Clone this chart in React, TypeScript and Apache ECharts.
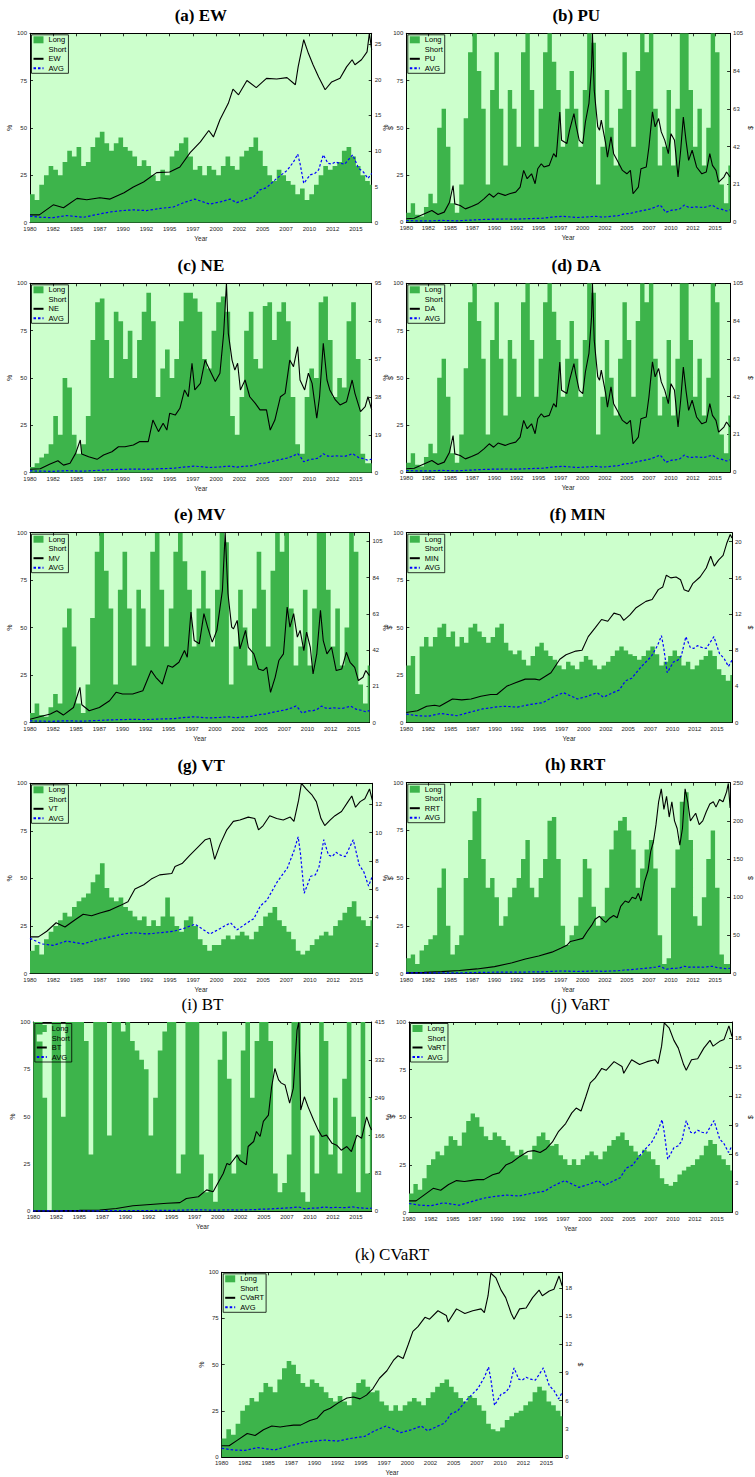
import React, { useEffect, useRef } from "react";
import * as echarts from "echarts";

const X_MIN = 1980;
const X_MAX = 2016.7;
const BAR_START = 1980;
const BAR_STEP = 0.5;
const X_TICKS = 2.5;

const LONG_GREEN = "#3db44b";
const SHORT_GREEN = "#ccffcc";
const SANS = "'Liberation Sans', Arial, sans-serif";
const SERIF = "'Liberation Serif', 'DejaVu Serif', serif";

// ---- AVG line ($) ----
const AVG_LINE: [number, number][] = [
  [1980, 0.93], [1981.25, 0.75], [1982.5, 0.7], [1983.9, 1.0], [1985.7, 0.75], [1987.2, 1.15],
  [1988.6, 1.5], [1990, 1.7], [1991.1, 1.8], [1992.5, 1.7], [1994, 2.0], [1995.4, 2.2],
  [1996.5, 2.8], [1997.7, 3.3], [1999.3, 2.6], [2000.4, 2.9], [2001.5, 3.3], [2002.2, 2.8],
  [2003.3, 3.3], [2004, 3.6], [2004.7, 4.6], [2005.4, 4.9], [2006.5, 6.2], [2007.6, 7.3],
  [2008.3, 8.5], [2008.75, 9.6], [2009, 8.3], [2009.4, 5.5], [2010.1, 6.7], [2010.6, 6.9],
  [2011, 7.4], [2011.5, 9.5], [2012, 8.3], [2012.4, 8.2], [2012.8, 8.5], [2013.3, 8.3],
  [2013.8, 8.2], [2014.66, 9.5], [2015.3, 7.6], [2015.8, 7.1], [2016.3, 6.2], [2016.7, 6.9],
];
// AVG as drawn in the VT panel (starts higher)
const AVG_VT_LINE: [number, number][] = [
  [1980, 2.5], [1981.25, 2.1], [1982.5, 2.0], [1983.9, 2.3], [1985.7, 2.1], [1987.2, 2.4],
  [1988.6, 2.6], [1990, 2.8], [1991.1, 2.9], [1992.5, 2.8], [1994, 2.9], [1995.4, 3.0],
  [1996.5, 3.2], [1997.7, 3.5], [1999.3, 2.8], [2000.4, 3.2], [2001.5, 3.6], [2002.2, 3.1],
  [2003.3, 3.6], [2004, 3.9], [2004.7, 4.8], [2005.4, 5.2], [2006.5, 6.5], [2007.6, 7.5],
  [2008.3, 8.7], [2008.75, 9.7], [2009, 8.5], [2009.4, 5.7], [2010.1, 6.9], [2010.6, 7.0],
  [2011, 7.6], [2011.5, 9.5], [2012, 8.4], [2012.4, 8.3], [2012.8, 8.6], [2013.3, 8.4],
  [2013.8, 8.3], [2014.66, 9.5], [2015.3, 7.7], [2015.8, 7.2], [2016.3, 6.2], [2016.7, 6.9],
];

// ---- strategy value lines ($) ----
const EW_LINE: [number, number][] = [
  [1980, 1.1], [1981, 1.1], [1982.5, 2.5], [1983.6, 2.1], [1985.05, 3.4], [1986.1, 3.2],
  [1987.5, 3.5], [1988.6, 3.3], [1990.1, 4.2], [1991.1, 5.0], [1992.2, 5.7], [1993.6, 7.0],
  [1995, 7.1], [1996.1, 7.8], [1997.2, 9.8], [1998.3, 11.3], [1999.2, 12.9], [1999.7, 12.0],
  [2000.4, 14.4], [2001.3, 16.7], [2001.8, 18.7], [2002.4, 17.9], [2003.3, 19.9], [2004.3, 18.9],
  [2005.4, 20.2], [2006.5, 20.1], [2007.6, 20.3], [2008.5, 19.3], [2008.8, 21.8], [2009.4, 25.6],
  [2009.9, 23.7], [2010.4, 22.1], [2011, 20.4], [2011.7, 18.6], [2012.4, 19.7], [2013.3, 20.2],
  [2014, 21.8], [2014.6, 22.8], [2014.9, 22.1], [2015.6, 22.8], [2016.2, 23.9], [2016.45, 26.5],
  [2016.7, 24.2],
];

const PU_LINE: [number, number][] = [
  [1980, 1.9], [1980.9, 2.2], [1982, 4.6], [1982.9, 6.5], [1983.6, 4.3], [1984.3, 5.6],
  [1984.9, 11.1], [1985.3, 20.4], [1985.5, 10.2], [1986.1, 9.3], [1986.7, 7.4], [1987.4, 8.7],
  [1988.1, 10.2], [1988.8, 13.0], [1989.4, 15.8], [1989.9, 13.9], [1990.4, 16.2], [1991.2, 14.9],
  [1991.7, 15.8], [1992.4, 16.7], [1992.9, 19.5], [1993.3, 28.8], [1993.7, 24.2], [1994.2, 26.9],
  [1994.6, 21.4], [1994.9, 29.7], [1995.3, 32.5], [1995.6, 30.7], [1996.2, 31.6], [1996.7, 38.1],
  [1997, 36.2], [1997.4, 61.3], [1997.6, 45.5], [1998.2, 43.7], [1998.5, 51.1], [1999, 60.4],
  [1999.2, 54.8], [1999.6, 45.5], [2000, 43.7], [2000.3, 55.7], [2000.7, 66], [2001, 86.4],
  [2001.1, 105], [2001.3, 73.4], [2001.7, 53], [2001.9, 51.1], [2002.1, 56.7], [2002.6, 43.7],
  [2002.8, 36.2], [2003.2, 47.4], [2003.5, 38.1], [2003.9, 34.4], [2004.5, 28.8], [2005, 26.9],
  [2005.4, 28.8], [2005.7, 15.8], [2006.3, 19.5], [2006.6, 29.7], [2007.2, 30.7], [2007.5, 41.8],
  [2007.9, 61.3], [2008.2, 53], [2008.6, 57.6], [2008.9, 50.2], [2009.3, 45.5], [2009.7, 38.1],
  [2010, 49.2], [2010.4, 45.5], [2010.8, 25.1], [2011.1, 40], [2011.4, 58.5], [2011.7, 45.5],
  [2012, 34.4], [2012.4, 40], [2012.9, 30.7], [2013.5, 26.9], [2014, 27.9], [2014.4, 38.1],
  [2014.7, 31.6], [2015.1, 28.8], [2015.4, 22.3], [2016, 25.1], [2016.3, 27.9], [2016.7, 25.1],
];

const NE_LINE: [number, number][] = [
  [1980, 1.7], [1981.1, 2.0], [1982.1, 4.2], [1983, 6.0], [1983.6, 3.8], [1984.3, 4.7],
  [1984.9, 9.7], [1985.4, 16.4], [1985.55, 9.4], [1986.3, 8.0], [1987.2, 6.7], [1987.9, 8.9],
  [1988.8, 10.5], [1989.5, 13], [1990.2, 13], [1991.1, 13.9], [1991.8, 15.6], [1992.7, 15.6],
  [1993.2, 26.4], [1993.8, 20.6], [1994.3, 24.8], [1994.7, 21.4], [1995, 29.8], [1995.6, 28.9],
  [1996.1, 32.3], [1996.6, 41.5], [1997, 38.1], [1997.4, 54.9], [1997.7, 41.5], [1998.3, 44.8],
  [1998.8, 56.5], [1999.3, 51.5], [1999.9, 45.7], [2000.4, 49.9], [2000.8, 69.9], [2001.1, 95],
  [2001.3, 69.9], [2001.7, 56.5], [2002, 51.5], [2002.3, 54.9], [2002.6, 41.5], [2003.1, 46.5],
  [2003.6, 38.1], [2004.2, 34.8], [2004.7, 31.5], [2005.4, 31.5], [2005.8, 21.4], [2006.3, 26.4],
  [2006.9, 38.1], [2007.4, 39.8], [2007.9, 56.5], [2008.3, 53.2], [2008.75, 63.2], [2009, 46.5],
  [2009.5, 41.5], [2009.9, 49.9], [2010.3, 44.8], [2010.8, 27.3], [2011.1, 38.1], [2011.5, 64.9],
  [2011.9, 46.5], [2012.2, 41.5], [2012.8, 36.5], [2013.3, 34], [2014, 35.6], [2014.6, 46.5],
  [2014.9, 39.8], [2015.5, 30.6], [2016, 33.1], [2016.3, 38.1], [2016.7, 31.5],
];

const MV_LINE: [number, number][] = [
  [1980, 1.9], [1982.2, 4.9], [1982.9, 6.8], [1983.6, 4.3], [1984.7, 8.7], [1985.4, 20.4],
  [1985.6, 10.3], [1986.4, 6.8], [1987.5, 8.7], [1988.6, 12.6], [1989.3, 17.5], [1990, 16.5],
  [1991.1, 16.5], [1992.2, 18.4], [1993.1, 30.1], [1993.6, 26.2], [1994.3, 22.3], [1994.9, 33],
  [1995.4, 32], [1996.1, 34.9], [1996.7, 41.7], [1997, 37.8], [1997.4, 64], [1997.75, 47.5],
  [1998.3, 45.6], [1998.8, 63.1], [1999.2, 55.3], [1999.7, 46.6], [2000.2, 53.4], [2000.8, 76.6],
  [2001.1, 110], [2001.4, 74.7], [2001.8, 55.3], [2002, 54.3], [2002.4, 59.2], [2002.7, 42.7],
  [2003.3, 53.4], [2003.6, 43.6], [2004.2, 39.8], [2004.7, 31], [2005.2, 30.1], [2005.6, 32],
  [2006, 17.5], [2006.5, 26.2], [2006.9, 35.9], [2007.4, 39.8], [2007.8, 66.9], [2008.1, 55.3],
  [2008.5, 63.1], [2008.9, 49.5], [2009.2, 53.4], [2009.6, 41.7], [2009.9, 52.4], [2010.3, 43.6],
  [2010.6, 28.1], [2011, 39.8], [2011.4, 65], [2011.7, 47.5], [2012.1, 39.8], [2012.6, 43.6],
  [2013.1, 30.1], [2013.7, 31], [2014.2, 40.7], [2014.6, 34.9], [2015.1, 32], [2015.5, 24.3],
  [2016, 26.2], [2016.3, 30.1], [2016.7, 27.2],
];

const MIN_LINE: [number, number][] = [
  [1980, 1.1], [1981.25, 1.3], [1982.3, 1.8], [1983.2, 1.9], [1983.75, 1.8], [1985.2, 2.6],
  [1986.25, 2.5], [1987.3, 2.6], [1988.4, 2.9], [1989.5, 3.1], [1990.2, 3.1], [1991.3, 4.0],
  [1992.3, 4.4], [1993.4, 4.8], [1994.5, 4.8], [1995, 4.7], [1996.3, 5.5], [1997.3, 7.0],
  [1998, 7.5], [1999.1, 7.9], [1999.8, 8.0], [2000.5, 9.5], [2001.3, 10.5], [2002, 11.4],
  [2002.7, 11.2], [2003.4, 12.1], [2004.1, 11.9], [2004.5, 11.3], [2005.2, 11.9], [2005.9, 12.7],
  [2007, 13.4], [2007.7, 13.6], [2008.4, 14.7], [2008.9, 15.0], [2009.3, 16.3], [2009.8, 16.0],
  [2010.4, 16.1], [2010.9, 15.8], [2011.3, 14.7], [2011.8, 14.5], [2012.3, 15.4], [2013.1, 16.1],
  [2013.8, 17.1], [2014.3, 18.4], [2014.7, 17.3], [2015.2, 18.0], [2015.7, 18.5], [2016.1, 19.8],
  [2016.5, 20.8], [2016.7, 20.4],
];

const VT_LINE: [number, number][] = [
  [1980, 2.6], [1980.9, 2.6], [1981.8, 3.0], [1982.8, 3.6], [1983.75, 3.3], [1984.8, 3.8],
  [1985.7, 4.2], [1986.6, 4.1], [1987.5, 4.3], [1988.6, 4.5], [1989.6, 4.8], [1990.5, 5.1],
  [1991.25, 6.0], [1992.2, 6.3], [1993, 6.7], [1993.9, 7.0], [1995.2, 7.1], [1995.55, 7.6],
  [1996.3, 7.8], [1997.15, 8.4], [1997.9, 8.9], [1998.8, 9.5], [1999.3, 9.6], [1999.8, 8.1],
  [2000.4, 9.2], [2001.1, 10.2], [2001.8, 10.8], [2002.5, 10.9], [2003.4, 11.1], [2004.1, 11.0],
  [2004.5, 10.2], [2005, 10.5], [2005.7, 11.2], [2006.45, 11.0], [2007.15, 10.9], [2007.9, 11.1],
  [2008.3, 10.8], [2008.8, 12.3], [2009.1, 13.5], [2009.6, 13.1], [2010.2, 12.7], [2010.7, 12.2],
  [2011.2, 11.0], [2011.6, 10.5], [2012.2, 10.9], [2012.7, 11.2], [2013.4, 11.5], [2014.1, 12.2],
  [2014.5, 12.6], [2014.9, 11.8], [2015.4, 12.2], [2015.9, 12.4], [2016.4, 13.1], [2016.7, 12.3],
];

const RRT_LINE: [number, number][] = [
  [1980, 1], [1982, 1.5], [1984, 2.5], [1986, 4], [1988, 6], [1990, 9], [1992, 14],
  [1993.5, 19], [1995, 23], [1996.5, 28], [1997.5, 33], [1998.2, 37], [1998.6, 42],
  [1999.3, 44], [2000, 46], [2000.5, 55], [2001, 63], [2001.4, 71], [2001.9, 75],
  [2002.3, 70], [2002.6, 67], [2003, 72], [2003.5, 76], [2003.9, 73], [2004.3, 88],
  [2004.8, 95], [2005.2, 93], [2005.6, 100], [2006, 98], [2006.3, 105], [2006.6, 95],
  [2007, 120], [2007.4, 135], [2007.7, 160], [2008, 172], [2008.3, 195], [2008.6, 225],
  [2008.9, 242], [2009.2, 215], [2009.5, 232], [2009.8, 205], [2010.1, 225], [2010.4, 200],
  [2010.7, 190], [2011, 168], [2011.3, 190], [2011.6, 242], [2011.9, 225], [2012.2, 200],
  [2012.5, 205], [2012.8, 210], [2013.2, 195], [2013.6, 200], [2014, 212], [2014.4, 222],
  [2014.8, 225], [2015.1, 218], [2015.5, 228], [2015.9, 225], [2016.3, 238], [2016.5, 249],
  [2016.7, 217],
];

const BT_LINE: [number, number][] = [
  [1980, 1], [1983, 1.5], [1985, 2], [1987.2, 3], [1989, 6], [1990.8, 12], [1992.7, 15],
  [1994.5, 17.5], [1995.9, 19], [1996.6, 28], [1997.9, 32], [1998.8, 47], [1999.5, 43],
  [2000.1, 65], [2000.6, 83], [2001, 105], [2001.3, 102], [2002.1, 123], [2002.4, 112],
  [2003.1, 102], [2003.3, 142], [2003.9, 153], [2004.2, 175], [2004.6, 164], [2004.95, 197],
  [2005.5, 211], [2005.85, 273], [2006.2, 313], [2006.6, 288], [2006.9, 281], [2007.3, 277],
  [2007.8, 237], [2008.2, 270], [2008.6, 397], [2008.8, 415], [2009, 222], [2009.4, 251],
  [2009.8, 229], [2010.4, 200], [2010.9, 178], [2011.3, 164], [2011.8, 167], [2012.4, 149],
  [2012.9, 145], [2013.4, 134], [2014, 142], [2014.5, 131], [2015.1, 167], [2015.6, 160],
  [2016.15, 207], [2016.5, 186], [2016.7, 178],
];

const VART_LINE: [number, number][] = [
  [1980, 1.2], [1980.8, 1.2], [1981.7, 1.8], [1982.75, 2.5], [1983.6, 2.3], [1984.5, 2.9],
  [1985.4, 3.3], [1986.3, 3.2], [1987, 3.3], [1987.75, 3.4], [1988.5, 3.4], [1989.5, 3.9],
  [1990.25, 4.1], [1991, 4.9], [1991.7, 5.2], [1992.6, 5.8], [1993.5, 6.3], [1994.2, 6.4],
  [1994.9, 6.2], [1995.6, 6.6], [1996.3, 7.3], [1997, 8.4], [1997.8, 9.2], [1998.5, 10.3],
  [1999, 10.8], [1999.55, 10.5], [2000.1, 12.0], [2000.6, 13.4], [2001.15, 13.9], [2001.9, 14.9],
  [2002.4, 14.7], [2003.3, 15.6], [2004.2, 15.1], [2004.4, 14.4], [2005.3, 15.8], [2006.2, 15.3],
  [2007.05, 15.6], [2007.95, 15.8], [2008.3, 15.4], [2008.7, 17.2], [2009, 19.6], [2009.55, 19.1],
  [2010.1, 17.8], [2010.6, 17.0], [2011.2, 15.3], [2011.5, 14.7], [2012.1, 15.8], [2012.8, 15.9],
  [2013.5, 17.0], [2014.2, 17.8], [2014.55, 17.2], [2015.3, 17.7], [2015.8, 17.9], [2016.35, 19.3],
  [2016.7, 18.2],
];

// ---- long share (%) per half-year, 1980.0 .. 2016.5 ----
const EW_LONG = [
  15, 12, 20, 25, 30, 28, 25, 32, 38, 35,
  40, 30, 32, 40, 45, 48, 42, 38, 42, 45,
  40, 38, 35, 30, 33, 30, 25, 22, 28, 25,
  35, 38, 42, 45, 35, 28, 30, 25, 30, 28,
  25, 30, 35, 30, 28, 35, 38, 40, 45, 38,
  30, 25, 22, 28, 25, 22, 20, 15, 18, 12,
  15, 20, 25, 30, 28, 30, 32, 38, 40, 35,
  30, 25, 22, 20,
];
const PU_LONG = [
  5, 10, 4, 3, 8, 15, 10, 50, 60, 40,
  10, 5, 20, 55, 90, 100, 80, 60, 20, 70,
  90, 60, 30, 70, 60, 40, 90, 100, 70, 40,
  60, 90, 100, 85, 70, 40, 60, 80, 60, 40,
  70, 100, 95, 20, 40, 70, 50, 30, 60, 90,
  70, 40, 80, 100, 90, 100, 60, 30, 40, 70,
  30, 60, 100, 100, 70, 40, 60, 30, 50, 100,
  90, 20, 10, 30,
];
const NE_LONG = [
  3, 5, 8, 10, 15, 30, 20, 50, 45, 20,
  10, 15, 30, 70, 90, 92, 70, 50, 85, 80,
  60, 75, 50, 70, 85, 95, 80, 40, 55, 65,
  50, 60, 80, 95, 95, 92, 85, 60, 55, 75,
  90, 93, 85, 30, 20, 40, 75, 85, 60, 55,
  88, 90, 70, 85, 90, 80, 40, 15, 10, 40,
  55, 50, 90, 93, 70, 40, 50, 45, 80, 90,
  60, 10, 5, 5,
];
const MIN_LONG = [
  30, 35, 15, 40, 45, 40, 45, 50, 52, 45,
  48, 40, 45, 42, 50, 52, 48, 45, 42, 45,
  50, 52, 42, 38, 36, 38, 33, 30, 35, 40,
  42, 38, 35, 33, 30, 28, 32, 30, 28, 32,
  35, 33, 30, 28, 30, 32, 35, 38, 40, 38,
  36, 35, 33, 35, 38, 40, 36, 30, 32, 35,
  38, 35, 30, 32, 28, 30, 33, 35, 38, 35,
  28, 25, 22, 25,
];
const VT_LONG = [
  12, 15, 10, 18, 22, 25, 28, 32, 30, 35,
  38, 40, 42, 48, 52, 58, 45, 40, 38, 40,
  35, 33, 30, 28, 30, 25, 28, 25, 30, 40,
  30, 25, 22, 28, 30, 25, 18, 15, 12, 15,
  15, 18, 20, 18, 20, 22, 20, 18, 22, 25,
  30, 32, 35, 28, 25, 22, 18, 12, 10, 12,
  15, 18, 20, 22, 20, 25, 28, 32, 35, 38,
  30, 28, 25, 28,
];
const RRT_LONG = [
  8, 10, 5, 12, 15, 18, 20, 45, 55, 25,
  10, 15, 20, 50, 70, 85, 92, 60, 45, 50,
  40, 25, 30, 40, 45, 50, 60, 70, 45, 40,
  50, 60, 80, 82, 60, 25, 15, 20, 25, 40,
  60, 55, 35, 25, 30, 45, 65, 75, 80, 82,
  75, 65, 45, 55, 65, 70, 55, 20, 5, 8,
  45, 65, 90, 95, 70, 30, 25, 40, 60, 75,
  45, 10, 5, 5,
];
const BT_LONG = [
  100, 100, 60, 0, 100, 100, 50, 100, 100, 100,
  100, 90, 30, 100, 100, 100, 40, 100, 100, 95,
  100, 90, 85, 80, 75, 40, 60, 85, 95, 100,
  100, 20, 30, 100, 100, 100, 30, 10, 20, 5,
  80, 95, 70, 20, 30, 85, 100, 60, 90, 100,
  100, 90, 20, 10, 15, 30, 100, 100, 10, 5,
  40, 20, 100, 90, 30, 60, 20, 70, 100, 50,
  10, 100, 20, 60,
];
const VART_LONG = [
  10, 15, 12, 18, 25, 28, 32, 30, 35, 40,
  38, 35, 42, 48, 52, 50, 45, 40, 38, 42,
  40, 38, 35, 32, 30, 33, 30, 28, 35, 40,
  42, 38, 35, 36, 30, 28, 25, 28, 25, 28,
  30, 32, 30, 28, 32, 35, 38, 40, 42, 38,
  35, 32, 30, 33, 32, 28, 25, 18, 15, 14,
  16, 20, 22, 24, 25, 28, 30, 35, 38, 36,
  30, 28, 25, 22,
];

type Panel = {
  tag: string;
  name: string;
  bold: boolean;
  long: number[];
  line: [number, number][];
  avg: [number, number][];
  rmax: number;
  rint: number;
  box: [number, number, number, number];
};

const PANELS: Panel[] = [
  { tag: "(a)", name: "EW", bold: true, long: EW_LONG, line: EW_LINE, avg: AVG_LINE, rmax: 26.5, rint: 5, box: [30, 33.3, 371.7, 222.7] },
  { tag: "(b)", name: "PU", bold: true, long: PU_LONG, line: PU_LINE, avg: AVG_LINE, rmax: 105, rint: 21, box: [406.3, 33.3, 746.3, 222.2] },
  { tag: "(c)", name: "NE", bold: true, long: NE_LONG, line: NE_LINE, avg: AVG_LINE, rmax: 95, rint: 19, box: [30, 283.3, 371.7, 472.7] },
  { tag: "(d)", name: "DA", bold: true, long: PU_LONG, line: PU_LINE, avg: AVG_LINE, rmax: 105, rint: 21, box: [406.3, 283.3, 746.3, 472.2] },
  { tag: "(e)", name: "MV", bold: true, long: PU_LONG, line: MV_LINE, avg: AVG_LINE, rmax: 110, rint: 21, box: [30, 532.7, 369.5, 722.5] },
  { tag: "(f)", name: "MIN", bold: true, long: MIN_LONG, line: MIN_LINE, avg: AVG_LINE, rmax: 21, rint: 4, box: [406.3, 532.7, 748.7, 722.5] },
  { tag: "(g)", name: "VT", bold: true, long: VT_LONG, line: VT_LINE, avg: AVG_VT_LINE, rmax: 13.5, rint: 2, box: [30, 783.3, 372.3, 973.5] },
  { tag: "(h)", name: "RRT", bold: true, long: RRT_LONG, line: RRT_LINE, avg: AVG_LINE, rmax: 250, rint: 50, box: [406.3, 782.7, 744, 973.5] },
  { tag: "(i)", name: "BT", bold: false, long: BT_LONG, line: BT_LINE, avg: AVG_LINE, rmax: 415, rint: 83, box: [33.3, 1022, 371.7, 1211.3] },
  { tag: "(j)", name: "VaRT", bold: false, long: VART_LONG, line: VART_LINE, avg: AVG_LINE, rmax: 19.7, rint: 3, box: [409, 1022, 751.3, 1212.5] },
  { tag: "(k)", name: "CVaRT", bold: false, long: VART_LONG, line: VART_LINE, avg: AVG_LINE, rmax: 19.7, rint: 3, box: [221.7, 1272.3, 562.3, 1462.3] },
];

function buildOption() {
  const grid: any[] = [];
  const xAxis: any[] = [];
  const yAxis: any[] = [];
  const series: any[] = [];
  const legend: any[] = [];
  const graphic: any[] = [];

  const axisLine = { show: true, onZero: false, lineStyle: { color: "#000", width: 1 } };
  const axisTick = { show: true, inside: true, length: 3, lineStyle: { color: "#000", width: 0.8 } };
  const labelBase = { fontSize: 6, color: "#262626", fontFamily: SANS };
  const hiddenSymbol = { opacity: 0, color: "rgba(0,0,0,0)", borderWidth: 0 };

  PANELS.forEach((p, i) => {
    const [l, t, r, b] = p.box;
    grid.push({
      left: l, top: t, width: r - l, height: b - t,
      show: true, backgroundColor: SHORT_GREEN, borderWidth: 0, containLabel: false,
    });
    xAxis.push({
      type: "value", gridIndex: i, position: "bottom", min: X_MIN, max: X_MAX, interval: X_TICKS,
      axisLine, axisTick, splitLine: { show: false },
      axisLabel: { ...labelBase, margin: 3, showMaxLabel: false, formatter: (v: number) => String(Math.floor(v)) },
      name: "Year", nameLocation: "middle", nameGap: 12,
      nameTextStyle: { fontSize: 6.5, color: "#262626", fontFamily: SANS },
    });
    xAxis.push({
      type: "value", gridIndex: i, position: "top", min: X_MIN, max: X_MAX, interval: X_TICKS,
      axisLine, axisTick, splitLine: { show: false }, axisLabel: { show: false },
    });
    yAxis.push({
      type: "value", gridIndex: i, position: "left", min: 0, max: 100, interval: 25,
      axisLine, axisTick, splitLine: { show: false },
      axisLabel: { ...labelBase, margin: 3 },
      name: "%", nameLocation: "middle", nameGap: 15, nameRotate: 90,
      nameTextStyle: { fontSize: 7, color: "#262626", fontFamily: SANS },
    });
    yAxis.push({
      type: "value", gridIndex: i, position: "right", min: 0, max: p.rmax, interval: p.rint,
      axisLine, axisTick, splitLine: { show: false },
      axisLabel: { ...labelBase, margin: 3, showMaxLabel: p.rmax % p.rint === 0 },
      name: "$", nameLocation: "middle", nameGap: 15, nameRotate: 90,
      nameTextStyle: { fontSize: 7, color: "#262626", fontFamily: SANS },
    });

    const xi = 2 * i;
    const yl = 2 * i;
    const yr = 2 * i + 1;
    const longData: [number, number][] = p.long.map((v, k) => [BAR_START + k * BAR_STEP, v]);
    longData.push([X_MAX, p.long[p.long.length - 1]]);

    series.push({
      name: "Long", type: "line", xAxisIndex: xi, yAxisIndex: yl, step: "end", symbol: "none",
      data: longData, lineStyle: { width: 0 }, areaStyle: { color: LONG_GREEN, opacity: 1 },
      itemStyle: { color: LONG_GREEN }, z: 1, silent: true,
    });
    series.push({
      name: "Short", type: "line", xAxisIndex: xi, yAxisIndex: yl, symbol: "none", data: [],
      itemStyle: { color: SHORT_GREEN }, lineStyle: { color: SHORT_GREEN },
    });
    series.push({
      name: p.name, type: "line", xAxisIndex: xi, yAxisIndex: yr, symbol: "none", data: p.line,
      lineStyle: { color: "#000", width: 1.1 }, itemStyle: { color: "#000" }, z: 3, silent: true,
    });
    series.push({
      name: "AVG", type: "line", xAxisIndex: xi, yAxisIndex: yr, symbol: "none", data: p.avg,
      lineStyle: { color: "#0000ff", width: 1.2, type: [2.5, 2] }, itemStyle: { color: "#0000ff" },
      z: 4, silent: true,
    });

    legend.push({
      left: l + 1.5, top: t + 1.5, orient: "vertical", selectedMode: false,
      data: [
        { name: "Long", icon: "rect" },
        { name: "Short", icon: "rect" },
        { name: p.name, itemStyle: hiddenSymbol },
        { name: "AVG", itemStyle: hiddenSymbol },
      ],
      itemWidth: 10, itemHeight: 7, itemGap: 1.5, padding: [1, 2, 1, 1],
      borderColor: "#000", borderWidth: 0.8, backgroundColor: "transparent",
      textStyle: { fontSize: 7.5, color: "#000", fontFamily: SANS },
    });

    graphic.push({
      type: "text", x: (l + r) / 2, y: t - 18,
      style: {
        text: `${p.tag} ${p.name}`, fontSize: 17, fontFamily: SERIF,
        fontWeight: p.bold ? "bold" : "normal", fill: "#000",
        align: "center", verticalAlign: "middle",
      },
    });
  });

  return { animation: false, backgroundColor: "#fff", grid, xAxis, yAxis, series, legend, graphic };
}

export default function App() {
  const ref = useRef<HTMLDivElement>(null);
  useEffect(() => {
    if (!ref.current) return;
    const chart = echarts.init(ref.current, undefined, { renderer: "svg" });
    chart.setOption(buildOption() as any);
    return () => chart.dispose();
  }, []);
  return (
    <div
      ref={ref}
      style={{ position: "absolute", left: 0, top: 0, width: 755, height: 1477, background: "#fff" }}
    />
  );
}
